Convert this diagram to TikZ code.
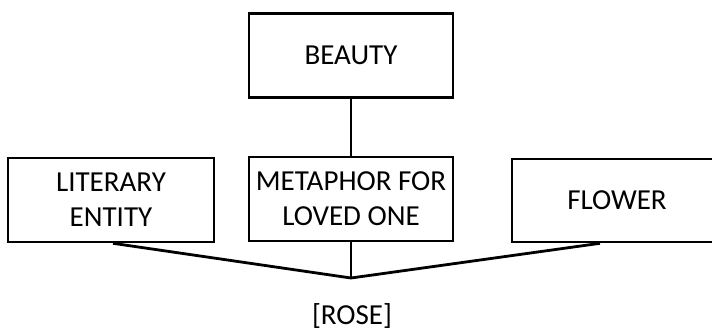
\documentclass[tikz,border=0pt]{standalone}
\usepackage{fontspec}
\setmainfont{Carlito}
\usepackage{tikz}
\usetikzlibrary{positioning}
\tikzset{
  % --- concept boxes ---------------------------------------------------------
  concept/.style={rectangle,draw=black,line width=2.6pt,fill=white,
                  minimum width=204pt,minimum height=84pt,inner sep=2pt,
                  align=center,font=\fontsize{29}{35}\selectfont},
  % --- links -----------------------------------------------------------------
  link/.style={black,line width=2.8pt,line join=round},
  wordlab/.style={font=\fontsize{29}{35}\selectfont,inner sep=0pt},
}
\begin{document}
\begin{tikzpicture}[x=1pt, y=-1pt]
  \useasboundingbox (0,0) rectangle (712,333);
  \clip (0,0) rectangle (712,333);
  \node[concept] (beauty)   at (351,55.5) {BEAUTY};
  \node[concept] (metaphor) at (351,199)  {METAPHOR FOR\\LOVED ONE};
  \node[concept,minimum width=206pt] (literary) at (111,200) {LITERARY\\ENTITY};
  \node[concept,minimum width=210pt,minimum height=83pt] (flower) at (617,200.5) {FLOWER};
  \coordinate (hub) at (351,278);
  \node[wordlab] (rose) at (352,316) {[ROSE]};

  \draw[link] (beauty) -- (metaphor);
  \draw[link] (metaphor) -- (hub);
  \draw[link] ([xshift=2pt]literary.south) -- (hub) -- ([xshift=-17pt]flower.south);
\end{tikzpicture}
\end{document}
